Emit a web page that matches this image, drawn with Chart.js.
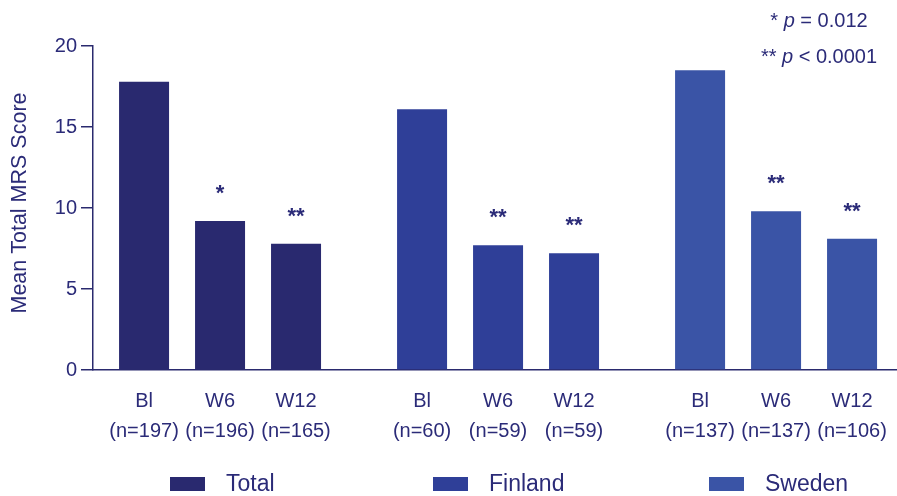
<!DOCTYPE html>
<html>
<head>
<meta charset="utf-8">
<script src="https://cdn.jsdelivr.net/npm/chart.js@4.4.1/dist/chart.umd.min.js"></script>
<style>
  html, body { margin: 0; padding: 0; background: #ffffff; }
  #wrap { width: 897px; height: 496px; }
</style>
</head>
<body>
<div id="wrap"><canvas id="c" width="897" height="496"></canvas></div>
<script>
// Mean total MRS score by cohort and visit
const groups = ['Total', 'Finland', 'Sweden'];
const timepoints = ['Bl', 'W6', 'W12'];
const totalScores = [17.8, 9.2, 7.8];
const finlandScores = [16.1, 7.7, 7.2];
const swedenScores = [18.5, 9.8, 8.1];
const totalN = [197, 196, 165];
const finlandN = [60, 59, 59];
const swedenN = [137, 137, 106];
const totalSig = ['', '*', '**'];
const finlandSig = ['', '**', '**'];
const swedenSig = ['', '**', '**'];
const yTicks = [0, 5, 10, 15, 20];
const yTitle = 'Mean Total MRS Score';
const pNotes = [['*', '= 0.012'], ['**', '< 0.0001']];

const scores = [totalScores, finlandScores, swedenScores];
const counts = [totalN, finlandN, swedenN];
const sigs = [totalSig, finlandSig, swedenSig];

const groupColors = ['#29296f', '#2f3f98', '#3a54a6'];
const ink = '#2b2b78';
const axisInk = '#2a2a6e';
const FONT = '"Liberation Sans", Arial, Helvetica, sans-serif';

// one dataset per visit; each holds one bar per cohort
const datasets = timepoints.map((tp, t) => ({
  label: tp,
  data: groups.map((g, gi) => ({ x: gi, y: scores[gi][t] })),
  backgroundColor: groupColors,
  borderWidth: 0,
  categoryPercentage: 0.82,
  barPercentage: 0.658
}));

// visit names, sample sizes and significance marks placed at each bar
const barLabels = {
  id: 'barLabels',
  afterDatasetsDraw(chart) {
    const ctx = chart.ctx;
    const bottom = chart.chartArea.bottom;
    ctx.save();
    ctx.fillStyle = ink;
    ctx.textAlign = 'center';
    ctx.textBaseline = 'alphabetic';
    chart.data.datasets.forEach((ds, t) => {
      const meta = chart.getDatasetMeta(t);
      meta.data.forEach((el, gi) => {
        ctx.font = '20px ' + FONT;
        ctx.fillText(timepoints[t], el.x, bottom + 37);
        ctx.fillText('(n=' + counts[gi][t] + ')', el.x, bottom + 67);
        const s = sigs[gi][t];
        if (s) {
          ctx.font = 'bold 22px ' + FONT;
          ctx.fillText(s, el.x, el.y - 21);
        }
      });
    });
    ctx.restore();
  }
};

// vertical axis title, centred beside the value axis
const axisTitle = {
  id: 'axisTitle',
  afterDraw(chart) {
    const ctx = chart.ctx;
    ctx.save();
    ctx.translate(20, 203);
    ctx.rotate(-Math.PI / 2);
    ctx.font = '21.5px ' + FONT;
    ctx.fillStyle = ink;
    ctx.textAlign = 'center';
    ctx.textBaseline = 'middle';
    ctx.fillText(yTitle, 0, 0);
    ctx.restore();
  }
};

// cohort key along the bottom edge
const cohortKey = {
  id: 'cohortKey',
  afterDraw(chart) {
    const ctx = chart.ctx;
    const xs = [170, 433, 709];
    ctx.save();
    ctx.font = '23px ' + FONT;
    ctx.textBaseline = 'alphabetic';
    ctx.textAlign = 'left';
    groups.forEach((g, i) => {
      ctx.fillStyle = groupColors[i];
      ctx.fillRect(xs[i], 477, 35, 14);
      ctx.fillStyle = ink;
      ctx.fillText(g, xs[i] + 56, 491);
    });
    ctx.restore();
  }
};

// p-value notes, top right
const pValueNotes = {
  id: 'pValueNotes',
  afterDraw(chart) {
    const ctx = chart.ctx;
    const cx = 819;
    const baselines = [27, 63];
    ctx.save();
    ctx.fillStyle = ink;
    ctx.textBaseline = 'alphabetic';
    ctx.textAlign = 'left';
    pNotes.forEach((note, i) => {
      const pre = note[0] + ' ';
      const post = ' ' + note[1];
      ctx.font = '20px ' + FONT;
      const w1 = ctx.measureText(pre).width;
      const w3 = ctx.measureText(post).width;
      ctx.font = 'italic 20px ' + FONT;
      const w2 = ctx.measureText('p').width;
      let x = cx - (w1 + w2 + w3) / 2;
      ctx.font = '20px ' + FONT;
      ctx.fillText(pre, x, baselines[i]);
      x += w1;
      ctx.font = 'italic 20px ' + FONT;
      ctx.fillText('p', x, baselines[i]);
      x += w2;
      ctx.font = '20px ' + FONT;
      ctx.fillText(post, x, baselines[i]);
    });
    ctx.restore();
  }
};

new Chart(document.getElementById('c'), {
  type: 'bar',
  data: { datasets },
  options: {
    responsive: false,
    animation: false,
    devicePixelRatio: 1,
    layout: { padding: { top: 46, right: 0, bottom: 0, left: 0 } },
    plugins: {
      legend: { display: false },
      tooltip: { enabled: false }
    },
    scales: {
      x: {
        type: 'linear',
        offset: false,
        bounds: 'data',
        grace: 0,
        afterDataLimits(scale) {
          // room on both sides of the three cohort groups
          scale.min = -0.457;
          scale.max = groups.length - 1 + 0.435;
        },
        afterBuildTicks(scale) {
          scale.ticks = groups.map((g, i) => ({ value: i }));
        },
        afterFit(scale) { scale.height = 126; },
        ticks: { display: false },
        grid: { display: false, offset: false },
        border: { display: true, color: axisInk, width: 1.5 }
      },
      y: {
        min: 0,
        max: 20,
        afterBuildTicks(scale) {
          scale.ticks = yTicks.map(v => ({ value: v }));
        },
        afterFit(scale) { scale.width = 93; },
        ticks: {
          color: ink,
          font: { family: FONT, size: 20 },
          padding: 4
        },
        grid: {
          display: true,
          drawOnChartArea: false,
          drawTicks: true,
          tickLength: 12,
          color: axisInk,
          lineWidth: 1.5
        },
        border: { display: true, color: axisInk, width: 1.5 },
        title: { display: false }
      }
    }
  },
  plugins: [barLabels, axisTitle, cohortKey, pValueNotes]
});
</script>
</body>
</html>
